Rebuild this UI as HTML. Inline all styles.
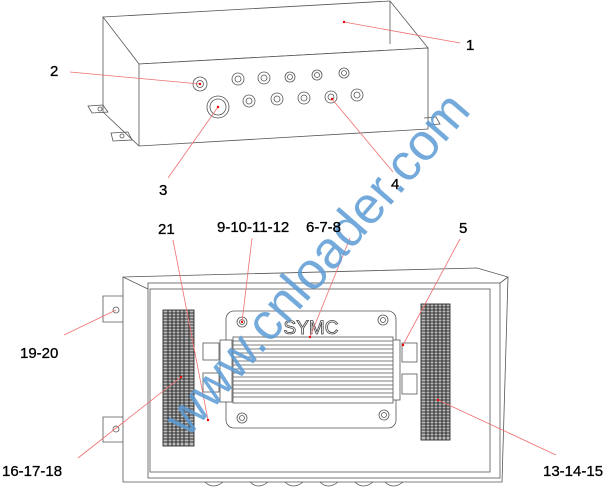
<!DOCTYPE html>
<html><head><meta charset="utf-8"><style>body{margin:0;background:#fff}svg{display:block}</style></head><body>
<svg width="612" height="489" viewBox="0 0 612 489" xmlns="http://www.w3.org/2000/svg" font-family="Liberation Sans, sans-serif">
<g fill="none" stroke="#555" stroke-width="0.8">
<polygon points="103,17 390,1 428,48 139,64" fill="#fff"/>
<polygon points="139,64 428,48 428,129 139,146" fill="#fff"/>
<line x1="103" y1="17" x2="103" y2="112"/><line x1="103" y1="112" x2="139" y2="146"/>
<line x1="390" y1="1" x2="390" y2="44"/>
<path d="M88,106 L103,105 L108,112 L92,113 Z M111,133 L128,132 L132,140 L113,141 Z M424,118 L436,117 L440,124 L428,125"/>
<circle cx="100" cy="109" r="2"/><circle cx="122" cy="136" r="2"/>
<g>
<circle cx="200" cy="84" r="7"/><circle cx="200" cy="84" r="3.5"/>
<circle cx="218" cy="107" r="11"/><circle cx="218" cy="107" r="8"/>
<circle cx="238" cy="79" r="6"/><circle cx="238" cy="79" r="3"/>
<circle cx="264" cy="78" r="6"/><circle cx="264" cy="78" r="3"/>
<circle cx="290" cy="77" r="5"/><circle cx="290" cy="77" r="2.5"/>
<circle cx="317" cy="75" r="5"/><circle cx="317" cy="75" r="2.5"/>
<circle cx="344" cy="73" r="5"/><circle cx="344" cy="73" r="2.5"/>
<circle cx="249" cy="101" r="6"/><circle cx="249" cy="101" r="3"/>
<circle cx="277" cy="99" r="6"/><circle cx="277" cy="99" r="3"/>
<circle cx="304" cy="98" r="6"/><circle cx="304" cy="98" r="3"/>
<circle cx="331" cy="97" r="6"/><circle cx="331" cy="97" r="3"/>
<circle cx="357" cy="95" r="6"/><circle cx="357" cy="95" r="3"/>
</g>
<polygon points="123,277 477,268 508,277 502,482 123,482" fill="#fff"/>
<line x1="123" y1="277" x2="148" y2="289"/>
<rect x="148" y="283" width="352" height="195" fill="#fff"/>
<rect x="150" y="289" width="340" height="183"/>
<line x1="500" y1="283" x2="508" y2="277"/>
<path d="M123,296 H103 V322 H123 M123,417 H103 V442 H123"/>
<circle cx="116" cy="310" r="3"/><circle cx="116" cy="429" r="3"/>
<path d="M205,482 q8,8 18,0 M250,482 q8,8 18,0 M285,482 q8,8 18,0 M320,482 q8,8 18,0 M355,482 q8,8 18,0 M385,482 q8,8 18,0"/>
<rect x="226" y="311" width="170" height="117" rx="8" fill="#fff"/>
<rect x="220" y="340" width="12" height="62" fill="#fff"/>
<rect x="390" y="340" width="10" height="60" fill="#fff"/>
<rect x="203" y="343" width="16" height="17"/><rect x="203" y="373" width="16" height="19"/>
<rect x="402" y="343" width="15" height="19"/><rect x="402" y="374" width="15" height="20"/>
<circle cx="242" cy="322" r="5"/><circle cx="242" cy="322" r="2.5"/>
<circle cx="383" cy="320" r="5"/><circle cx="383" cy="320" r="2.5"/>
<circle cx="242" cy="418" r="5"/><circle cx="242" cy="418" r="2.5"/>
<circle cx="384" cy="415" r="5"/><circle cx="384" cy="415" r="2.5"/>
</g>
<g stroke="#555" stroke-width="0.8">
<rect x="233" y="337" width="160" height="66" fill="#fff"/>
<path d="M233,341H393M233,345H393M233,349H393M233,353H393M233,357H393M233,361H393M233,365H393M233,369H393M233,373H393M233,377H393M233,381H393M233,385H393M233,389H393M233,393H393M233,397H393"/>
</g>
<text x="311" y="334" font-size="19" text-anchor="middle" fill="#fff" stroke="#444" stroke-width="0.8">SYMC</text>
<g stroke="#111" stroke-width="0.8">
<rect x="163" y="310" width="31" height="136" fill="#bbb"/>
<rect x="421" y="304" width="29" height="136" fill="#bbb"/>
<path d="M163,313H194M163,316H194M163,319H194M163,322H194M163,325H194M163,328H194M163,331H194M163,334H194M163,337H194M163,340H194M163,343H194M163,346H194M163,349H194M163,352H194M163,355H194M163,358H194M163,361H194M163,364H194M163,367H194M163,370H194M163,373H194M163,376H194M163,379H194M163,382H194M163,385H194M163,388H194M163,391H194M163,394H194M163,397H194M163,400H194M163,403H194M163,406H194M163,409H194M163,412H194M163,415H194M163,418H194M163,421H194M163,424H194M163,427H194M163,430H194M163,433H194M163,436H194M163,439H194M163,442H194"/>
<path d="M421,307H450M421,310H450M421,313H450M421,316H450M421,319H450M421,322H450M421,325H450M421,328H450M421,331H450M421,334H450M421,337H450M421,340H450M421,343H450M421,346H450M421,349H450M421,352H450M421,355H450M421,358H450M421,361H450M421,364H450M421,367H450M421,370H450M421,373H450M421,376H450M421,379H450M421,382H450M421,385H450M421,388H450M421,391H450M421,394H450M421,397H450M421,400H450M421,403H450M421,406H450M421,409H450M421,412H450M421,415H450M421,418H450M421,421H450M421,424H450M421,427H450M421,430H450M421,433H450M421,436H450"/>
<path d="M168,310V446M172,310V446M176,310V446M180,310V446M184,310V446M189,310V446M426,304V440M430,304V440M434,304V440M438,304V440M442,304V440M446,304V440"/>
</g>
<g stroke="#f07070" stroke-width="0.8">
<line x1="344" y1="22" x2="460" y2="43"/><line x1="70" y1="72" x2="200" y2="84"/>
<line x1="218" y1="107" x2="168" y2="178"/><line x1="332" y1="99" x2="393" y2="172"/>
<line x1="173" y1="240" x2="208" y2="420"/><line x1="252" y1="238" x2="242" y2="322"/>
<line x1="350" y1="238" x2="310" y2="337"/><line x1="460" y1="239" x2="403" y2="345"/>
<line x1="64" y1="335" x2="116" y2="310"/><line x1="78" y1="458" x2="181" y2="377"/>
<line x1="438" y1="400" x2="556" y2="455"/>
</g>
<g fill="#e00">
<circle cx="344" cy="22" r="1.2"/><circle cx="200" cy="84" r="1.2"/><circle cx="218" cy="107" r="1.2"/><circle cx="332" cy="99" r="1.2"/>
<circle cx="208" cy="420" r="1.2"/><circle cx="242" cy="322" r="1.2"/><circle cx="310" cy="337" r="1.2"/><circle cx="403" cy="345" r="1.2"/><circle cx="181" cy="377" r="1.2"/><circle cx="438" cy="400" r="1.2"/>
</g>
<text x="0" y="0" font-size="52" fill="#5b9bd5" fill-opacity="0.85" text-anchor="middle" transform="translate(330,275) rotate(-49)">www.cnloader.com</text>
<g font-size="15" fill="#000" stroke="#000" stroke-width="0.3">
<text x="466" y="50">1</text><text x="50" y="76">2</text><text x="159" y="195">3</text><text x="391" y="189">4</text>
<text x="158" y="234">21</text><text x="217" y="232">9-10-11-12</text><text x="306" y="232">6-7-8</text><text x="459" y="233">5</text>
<text x="20" y="358">19-20</text><text x="2" y="476">16-17-18</text><text x="543" y="476">13-14-15</text>
</g>
</svg>
</body></html>
